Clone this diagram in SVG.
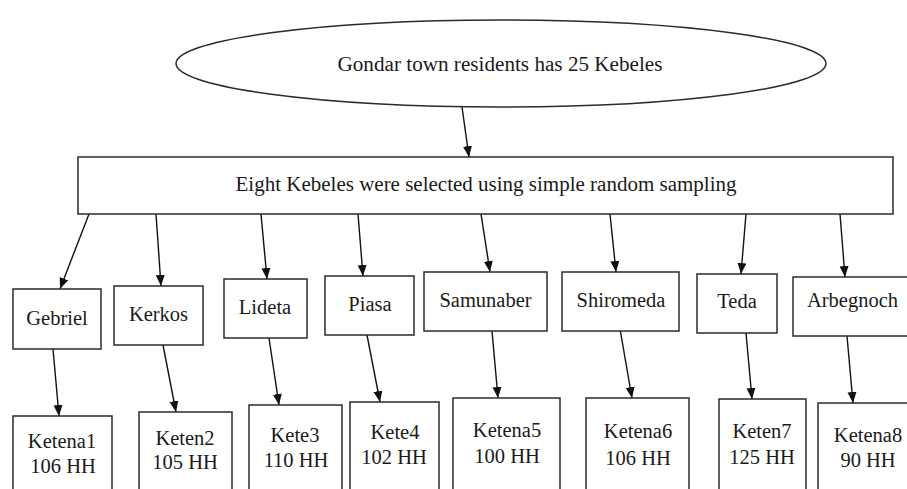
<svg xmlns="http://www.w3.org/2000/svg" width="907" height="489" viewBox="0 0 907 489">
<style>
.box{fill:#fff;stroke:#2b2b2b;stroke-width:1.5}
text{font-family:'Liberation Serif','DejaVu Serif',serif;font-size:20.5px;fill:#1a1a1a;text-anchor:middle}
.c{stroke:#111;stroke-width:1.4;fill:none;marker-end:url(#ah)}
</style>
<defs>
<marker id="ah" markerUnits="userSpaceOnUse" markerWidth="12" markerHeight="10" refX="11" refY="4.5" orient="auto">
<path d="M0,0 L11,4.5 L0,9 z" fill="#111"/>
</marker>
</defs>
<rect width="907" height="489" fill="#fff"/>
<g id="connectors">
<line class="c" x1="462" y1="107" x2="469" y2="157"/>
<line class="c" x1="89" y1="214" x2="60" y2="289"/>
<line class="c" x1="156" y1="214" x2="161" y2="286"/>
<line class="c" x1="261" y1="214" x2="267" y2="279"/>
<line class="c" x1="358" y1="214" x2="363" y2="276"/>
<line class="c" x1="481" y1="214" x2="490" y2="272"/>
<line class="c" x1="610" y1="214" x2="616" y2="272"/>
<line class="c" x1="746" y1="214" x2="741" y2="274"/>
<line class="c" x1="840" y1="214" x2="845" y2="277"/>
<line class="c" x1="53" y1="349" x2="59" y2="416"/>
<line class="c" x1="163" y1="345" x2="176" y2="412"/>
<line class="c" x1="269" y1="338" x2="279" y2="405"/>
<line class="c" x1="367" y1="335" x2="380" y2="402"/>
<line class="c" x1="492" y1="331" x2="498" y2="398"/>
<line class="c" x1="620" y1="329" x2="632" y2="398"/>
<line class="c" x1="746" y1="333" x2="752" y2="399"/>
<line class="c" x1="847" y1="336" x2="853" y2="403"/>
</g>
<g id="root">
<ellipse class="box" cx="501" cy="63.5" rx="325" ry="43.5"/>
<text font-family="Liberation Serif, serif" x="500" y="71" textLength="325" lengthAdjust="spacingAndGlyphs">Gondar town residents has 25 Kebeles</text>
</g>
<g id="selection">
<rect class="box" x="78" y="157" width="815" height="57"/>
<text font-family="Liberation Serif, serif" x="486" y="191" textLength="501" lengthAdjust="spacingAndGlyphs">Eight Kebeles were selected using simple random sampling</text>
</g>
<g id="gebriel"><rect class="box" x="13" y="289" width="88" height="60"/><text x="57" y="325">Gebriel</text></g>
<g id="kerkos"><rect class="box" x="114" y="286" width="89" height="59"/><text x="158.5" y="321">Kerkos</text></g>
<g id="lideta"><rect class="box" x="224" y="279" width="83" height="59"/><text x="265" y="314">Lideta</text></g>
<g id="piasa"><rect class="box" x="325" y="276" width="89" height="59"/><text x="370" y="311">Piasa</text></g>
<g id="samunaber"><rect class="box" x="424" y="272" width="123" height="59"/><text x="485.5" y="307">Samunaber</text></g>
<g id="shiromeda"><rect class="box" x="562" y="272" width="117" height="59"/><text x="621" y="307">Shiromeda</text></g>
<g id="teda"><rect class="box" x="697" y="274" width="80" height="59"/><text x="737" y="308">Teda</text></g>
<g id="arbegnoch"><rect class="box" x="793" y="277" width="120" height="59"/><text x="852.5" y="307">Arbegnoch</text></g>
<g id="ketena1"><rect class="box" x="13" y="416" width="99" height="90"/><text x="62" y="448">Ketena1</text><text x="63" y="473">106 HH</text></g>
<g id="keten2"><rect class="box" x="139" y="412" width="93" height="90"/><text x="185" y="445">Keten2</text><text x="185" y="469">105 HH</text></g>
<g id="kete3"><rect class="box" x="249" y="405" width="93" height="90"/><text x="295" y="442">Kete3</text><text x="296" y="467">110 HH</text></g>
<g id="kete4"><rect class="box" x="350" y="402" width="89" height="90"/><text x="395" y="439">Kete4</text><text x="394" y="464">102 HH</text></g>
<g id="ketena5"><rect class="box" x="453" y="398" width="107" height="95"/><text x="507" y="437">Ketena5</text><text x="507" y="463">100 HH</text></g>
<g id="ketena6"><rect class="box" x="586" y="398" width="103" height="95"/><text x="638" y="438">Ketena6</text><text x="638" y="465">106 HH</text></g>
<g id="keten7"><rect class="box" x="719" y="399" width="87" height="95"/><text x="762" y="438">Keten7</text><text x="762" y="464">125 HH</text></g>
<g id="ketena8"><rect class="box" x="818" y="403" width="95" height="95"/><text x="868" y="442">Ketena8</text><text x="868" y="467">90 HH</text></g>
</svg>
